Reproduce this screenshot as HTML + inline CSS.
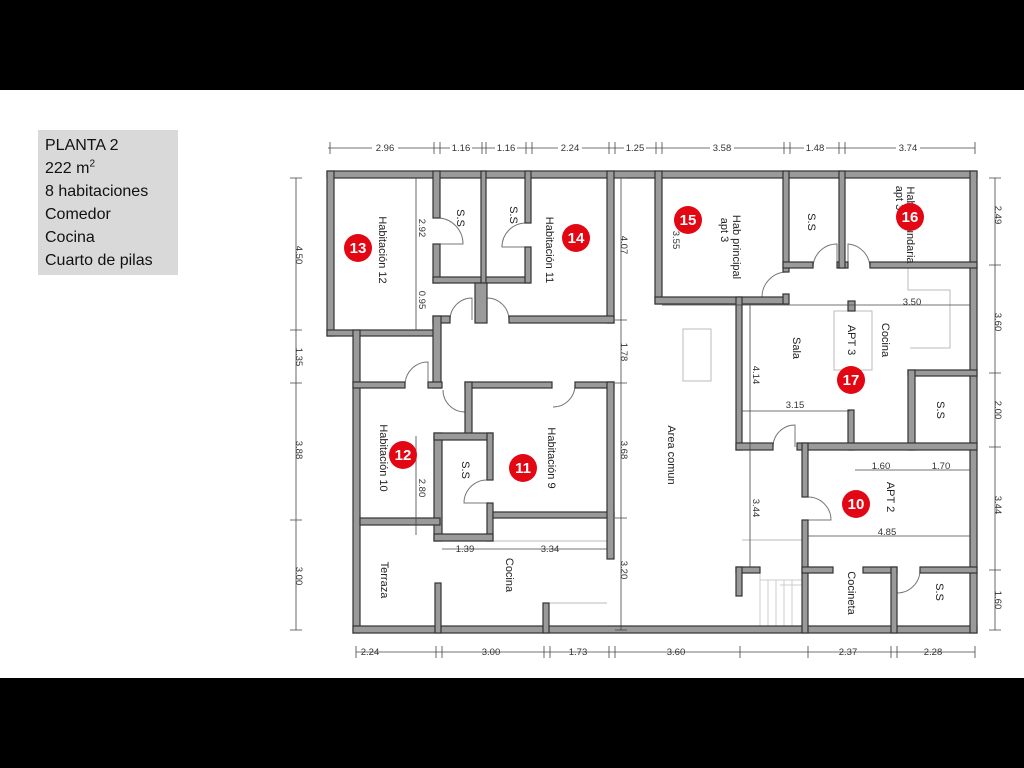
<!DOCTYPE html>
<html><head><meta charset="utf-8"><style>
html,body{margin:0;padding:0;background:#000;}
#wrap{position:relative;width:1024px;height:768px;background:#000;overflow:hidden;}
#page{position:absolute;left:0;top:90px;width:1024px;height:588px;background:#fff;}
#lbl{position:absolute;left:38px;top:130px;width:140px;height:145px;background:#d9d9d9;font-family:"Liberation Sans",sans-serif;font-size:16px;line-height:23px;color:#111;padding:4px 0 0 7px;box-sizing:border-box;}
svg{position:absolute;left:0;top:0;}
</style></head><body><div id="wrap"><div id="page"></div>
<div id="lbl">PLANTA 2<br>222 m<sup style="font-size:10px;line-height:0">2</sup><br>8 habitaciones<br>Comedor<br>Cocina<br>Cuarto de pilas</div>
<svg width="1024" height="768" viewBox="0 0 1024 768" font-family="Liberation Sans, sans-serif">
<!-- light lines -->
<g fill="none" stroke="#bbb" stroke-width="1">
<rect x="683" y="329" width="28" height="52"/>
<rect x="834" y="311" width="38" height="59"/>
<polyline points="908,268 908,290 950,290 950,348 910,348"/>
<line x1="742" y1="540" x2="802" y2="540"/>
<line x1="548" y1="603" x2="607" y2="603"/>
<line x1="440" y1="541" x2="607" y2="541"/>
<g stroke="#ccc"><line x1="760" y1="573" x2="760" y2="626"/><line x1="768" y1="580" x2="768" y2="626"/><line x1="776" y1="580" x2="776" y2="626"/><line x1="784" y1="580" x2="784" y2="626"/><line x1="792" y1="580" x2="792" y2="626"/><line x1="760" y1="580" x2="802" y2="580"/><line x1="780" y1="585" x2="802" y2="585"/></g>
</g>
<!-- door arcs -->
<g fill="none" stroke="#777" stroke-width="1">
<path d="M440,218 A26,26 0 0 1 463,244 L440,244"/>
<path d="M525,223 A24,24 0 0 0 502,247 L525,247"/>
<path d="M450,320 A22,22 0 0 1 472,298 L472,320"/>
<path d="M509,320 A22,22 0 0 0 487,298 L487,320"/>
<path d="M405,385 A23,23 0 0 1 428,362 L428,385"/>
<path d="M443,390 A22,22 0 0 0 465,412"/>
<path d="M575,385 A22,22 0 0 1 553,407"/>
<path d="M487,480 A23,23 0 0 0 464,503 L487,503"/>
<path d="M813,268 A24,24 0 0 1 837,244 L837,268"/>
<path d="M870,268 A24,24 0 0 0 848,244 L848,268"/>
<path d="M788,272 A25,25 0 0 0 762,297 L788,297"/>
<path d="M773,447 A22,22 0 0 1 795,425 L795,447"/>
<path d="M808,497 A23,23 0 0 1 831,520 L808,520"/>
<path d="M920,570 A23,23 0 0 1 897,593 L897,570"/>
</g>
<!-- walls -->
<g fill="#9a9a9a" stroke="#333" stroke-width="1.2">
<rect x="327" y="171" width="650" height="7"/>
<rect x="327" y="171" width="7" height="165"/>
<rect x="327" y="330" width="113" height="6"/>
<rect x="353" y="330" width="7" height="303"/>
<rect x="353" y="626" width="624" height="7"/>
<rect x="970" y="171" width="7" height="462"/>
<rect x="433" y="171" width="7" height="47"/>
<rect x="433" y="244" width="7" height="39"/>
<rect x="433" y="277" width="97" height="6"/>
<rect x="481" y="171" width="5" height="112"/>
<rect x="475" y="283" width="12" height="40"/>
<rect x="525" y="171" width="6" height="52"/>
<rect x="525" y="247" width="6" height="36"/>
<rect x="607" y="171" width="7" height="152"/>
<rect x="509" y="316" width="105" height="7"/>
<rect x="433" y="316" width="17" height="7"/>
<rect x="433" y="316" width="8" height="72"/>
<rect x="428" y="382" width="14" height="6"/>
<rect x="353" y="382" width="52" height="6"/>
<rect x="465" y="382" width="87" height="6"/>
<rect x="575" y="382" width="39" height="6"/>
<rect x="465" y="382" width="7" height="55"/>
<rect x="434" y="433" width="8" height="108"/>
<rect x="434" y="433" width="59" height="7"/>
<rect x="487" y="433" width="6" height="47"/>
<rect x="487" y="503" width="6" height="38"/>
<rect x="434" y="534" width="59" height="7"/>
<rect x="360" y="518" width="80" height="7"/>
<rect x="493" y="512" width="121" height="6"/>
<rect x="607" y="382" width="7" height="177"/>
<rect x="435" y="583" width="6" height="50"/>
<rect x="543" y="603" width="6" height="30"/>
<rect x="655" y="171" width="7" height="133"/>
<rect x="655" y="297" width="133" height="7"/>
<rect x="783" y="294" width="6" height="10"/>
<rect x="783" y="171" width="6" height="101"/>
<rect x="783" y="262" width="30" height="6"/>
<rect x="837" y="262" width="11" height="6"/>
<rect x="839" y="171" width="6" height="97"/>
<rect x="870" y="262" width="107" height="6"/>
<rect x="736" y="297" width="6" height="153"/>
<rect x="736" y="443" width="37" height="7"/>
<rect x="848" y="301" width="7" height="10"/>
<rect x="908" y="370" width="69" height="6"/>
<rect x="908" y="370" width="7" height="80"/>
<rect x="848" y="410" width="6" height="40"/>
<rect x="797" y="443" width="180" height="7"/>
<rect x="802" y="443" width="6" height="54"/>
<rect x="802" y="520" width="6" height="113"/>
<rect x="736" y="567" width="24" height="6"/>
<rect x="736" y="567" width="6" height="29"/>
<rect x="802" y="567" width="31" height="6"/>
<rect x="863" y="567" width="34" height="6"/>
<rect x="891" y="567" width="6" height="66"/>
<rect x="920" y="567" width="57" height="6"/>
</g>
<!-- dimension lines -->
<g stroke="#444" stroke-width="0.8" fill="none">
<line x1="328" y1="148" x2="975" y2="148"/>
<line x1="296" y1="178" x2="296" y2="630"/>
<line x1="995" y1="178" x2="995" y2="630"/>
<line x1="621" y1="178" x2="621" y2="630"/>
<line x1="356" y1="652" x2="975" y2="652"/>
<line x1="416" y1="178" x2="416" y2="330"/>
<line x1="416" y1="436" x2="416" y2="535"/>
<line x1="442" y1="549" x2="607" y2="549"/>
<line x1="662" y1="305" x2="970" y2="305"/>
<line x1="750" y1="305" x2="750" y2="567"/>
<line x1="742" y1="411" x2="850" y2="411"/>
<line x1="855" y1="470" x2="970" y2="470"/>
<line x1="808" y1="536" x2="970" y2="536"/>
<path d="M330,142v12M434,142v12M440,142v12M482,142v12M486,142v12M526,142v12M532,142v12M609,142v12M615,142v12M656,142v12M662,142v12M784,142v12M790,142v12M839,142v12M845,142v12M975,142v12"/>
<path d="M290,178h12M290,330h12M290,383h12M290,520h12M290,630h12"/>
<path d="M989,178h12M989,265h12M989,373h12M989,447h12M989,570h12M989,630h12"/>
<path d="M615,178h12M615,320h12M615,383h12M615,518h12M615,630h12"/>
<path d="M356,646v12M436,646v12M442,646v12M544,646v12M550,646v12M609,646v12M615,646v12M740,646v12M808,646v12M891,646v12M897,646v12M975,646v12"/>
</g>
<g font-size="9.5" fill="#333" text-anchor="middle">
<rect x="372" y="143" width="26" height="9" fill="#fff"/><text x="385" y="151">2.96</text>
<rect x="450" y="143" width="22" height="9" fill="#fff"/><text x="461" y="151">1.16</text>
<rect x="495" y="143" width="22" height="9" fill="#fff"/><text x="506" y="151">1.16</text>
<rect x="558" y="143" width="24" height="9" fill="#fff"/><text x="570" y="151">2.24</text>
<rect x="624" y="143" width="22" height="9" fill="#fff"/><text x="635" y="151">1.25</text>
<rect x="710" y="143" width="24" height="9" fill="#fff"/><text x="722" y="151">3.58</text>
<rect x="804" y="143" width="22" height="9" fill="#fff"/><text x="815" y="151">1.48</text>
<rect x="896" y="143" width="24" height="9" fill="#fff"/><text x="908" y="151">3.74</text>
<text x="370" y="655">2.24</text><text x="491" y="655">3.00</text><text x="578" y="655">1.73</text><text x="676" y="655">3.60</text><text x="848" y="655">2.37</text><text x="933" y="655">2.28</text>
<text x="465" y="552">1.39</text><text x="550" y="552">3.34</text><text x="912" y="305">3.50</text><text x="795" y="408">3.15</text><text x="881" y="469">1.60</text><text x="941" y="469">1.70</text><text x="887" y="535">4.85</text>
<g transform="translate(296,255) rotate(90)"><text>4.50</text></g>
<g transform="translate(296,357) rotate(90)"><text>1.35</text></g>
<g transform="translate(296,450) rotate(90)"><text>3.88</text></g>
<g transform="translate(296,576) rotate(90)"><text>3.00</text></g>
<g transform="translate(995,215) rotate(90)"><text>2.49</text></g>
<g transform="translate(995,322) rotate(90)"><text>3.60</text></g>
<g transform="translate(995,410) rotate(90)"><text>2.00</text></g>
<g transform="translate(995,505) rotate(90)"><text>3.44</text></g>
<g transform="translate(995,600) rotate(90)"><text>1.60</text></g>
<g transform="translate(621,245) rotate(90)"><text>4.07</text></g>
<g transform="translate(621,352) rotate(90)"><text>1.78</text></g>
<g transform="translate(621,450) rotate(90)"><text>3.68</text></g>
<g transform="translate(621,570) rotate(90)"><text>3.20</text></g>
<g transform="translate(419,228) rotate(90)"><text>2.92</text></g>
<g transform="translate(419,300) rotate(90)"><text>0.95</text></g>
<g transform="translate(419,488) rotate(90)"><text>2.80</text></g>
<g transform="translate(753,375) rotate(90)"><text>4.14</text></g>
<g transform="translate(753,508) rotate(90)"><text>3.44</text></g>
<g transform="translate(673,240) rotate(90)"><text>3.55</text></g>
</g>
<!-- room labels -->
<g font-size="11" fill="#222" text-anchor="middle">
<g transform="translate(379,250) rotate(90)"><text>Habitación 12</text></g>
<g transform="translate(546,250) rotate(90)"><text>Habitación 11</text></g>
<g transform="translate(457,218) rotate(90)"><text>S.S</text></g>
<g transform="translate(510,215) rotate(90)"><text>S.S</text></g>
<g transform="translate(733,247) rotate(90)"><text>Hab principal</text></g>
<g transform="translate(721,230) rotate(90)"><text>apt 3</text></g>
<g transform="translate(808,222) rotate(90)"><text>S.S</text></g>
<g transform="translate(907,225) rotate(90)"><text>Hab secundaria</text></g>
<g transform="translate(896,198) rotate(90)"><text>apt 3</text></g>
<g transform="translate(793,348) rotate(90)"><text>Sala</text></g>
<g transform="translate(848,340) rotate(90)"><text>APT 3</text></g>
<g transform="translate(882,340) rotate(90)"><text>Cocina</text></g>
<g transform="translate(937,410) rotate(90)"><text>S.S</text></g>
<g transform="translate(668,455) rotate(90)"><text>Area comun</text></g>
<g transform="translate(380,458) rotate(90)"><text>Habitación 10</text></g>
<g transform="translate(462,470) rotate(90)"><text>S.S</text></g>
<g transform="translate(548,458) rotate(90)"><text>Habitación 9</text></g>
<g transform="translate(381,580) rotate(90)"><text>Terraza</text></g>
<g transform="translate(506,575) rotate(90)"><text>Cocina</text></g>
<g transform="translate(887,497) rotate(90)"><text>APT 2</text></g>
<g transform="translate(848,593) rotate(90)"><text>Cocineta</text></g>
<g transform="translate(936,592) rotate(90)"><text>S.S</text></g>
</g>
<!-- markers -->
<g font-size="15" font-weight="bold" fill="#fff" text-anchor="middle">
<circle cx="358" cy="248" r="14" fill="#e30613"/><text x="358" y="253">13</text>
<circle cx="576" cy="238" r="14" fill="#e30613"/><text x="576" y="243">14</text>
<circle cx="688" cy="220" r="14" fill="#e30613"/><text x="688" y="225">15</text>
<circle cx="910" cy="217" r="14" fill="#e30613"/><text x="910" y="222">16</text>
<circle cx="851" cy="380" r="14" fill="#e30613"/><text x="851" y="385">17</text>
<circle cx="403" cy="455" r="14" fill="#e30613"/><text x="403" y="460">12</text>
<circle cx="523" cy="468" r="14" fill="#e30613"/><text x="523" y="473">11</text>
<circle cx="856" cy="504" r="14" fill="#e30613"/><text x="856" y="509">10</text>
</g>
</svg></div></body></html>
